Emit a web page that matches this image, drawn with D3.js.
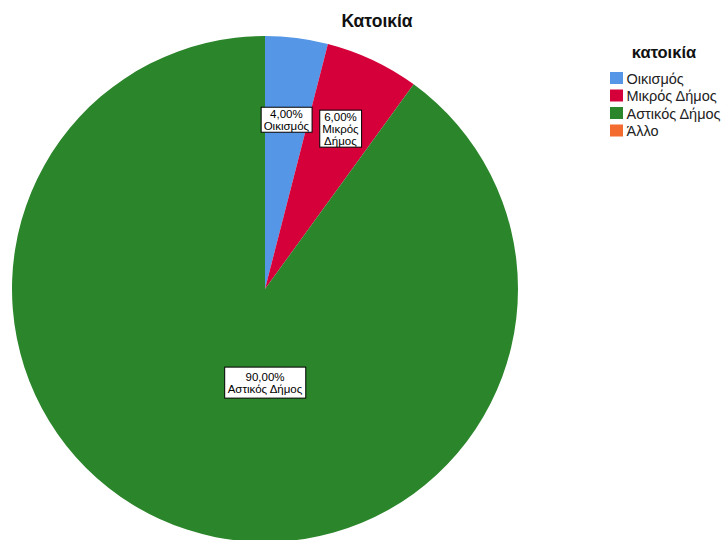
<!DOCTYPE html>
<html>
<head>
<meta charset="utf-8">
<script src="https://cdn.jsdelivr.net/npm/d3@7"></script>
<style>
  html, body { margin: 0; padding: 0; background: #fff; overflow: hidden; }
  svg { display: block; font-family: "Liberation Sans", Arial, sans-serif; }
</style>
</head>
<body>
<svg id="chart" width="721" height="540"></svg>
<script>
// Residence type shares (percent)
const categories = ["Οικισμός", "Μικρός Δήμος", "Αστικός Δήμος", "Άλλο"];
const values = [4, 6, 90, 0];
const colors = ["#5596e6", "#d5003a", "#2b852b", "#f46b2f"];
const chartTitle = "Κατοικία";
const legendTitle = "κατοικία";

const svg = d3.select("#chart");
const cx = 265, cy = 289, R = 253;

const fmt = v => v.toFixed(2).replace(".", ",") + "%";

const pie = d3.pie().sort(null).value(d => d.value);
const arcs = pie(categories.map((c, i) => ({ name: c, value: values[i], color: colors[i] })));
const arc = d3.arc().innerRadius(0).outerRadius(R);

const g = svg.append("g").attr("transform", `translate(${cx},${cy})`);
g.selectAll("path.slice")
  .data(arcs.filter(d => d.data.value > 0))
  .join("path")
  .attr("class", "slice")
  .attr("d", arc)
  .attr("fill", d => d.data.color);

// Value labels: for small slices the box's inner edge sits on a ring at 0.62R
// along the slice's mid-angle; the dominant slice's label sits below the centre.
const lh = 12;
arcs.filter(d => d.data.value > 0).forEach(d => {
  const lines = [fmt(d.data.value)];
  if (d.data.value < 5 || d.data.value >= 50) lines.push(d.data.name);
  else d.data.name.split(" ").forEach(w => lines.push(w));

  const lg = g.append("g");
  const txt = lg.append("text")
    .attr("text-anchor", "middle")
    .attr("font-size", 11.5)
    .attr("fill", "#000");
  lines.forEach((l, i) => {
    txt.append("tspan")
      .attr("x", 0)
      .attr("y", (i - (lines.length - 1) / 2) * lh + 4)
      .text(l);
  });
  const bb = txt.node().getBBox();
  const big = d.data.value >= 50;
  const padX = big ? 3 : 2.5, padY = big ? 3.5 : 0.5;
  const rect = lg.insert("rect", "text")
    .attr("x", bb.x - padX)
    .attr("y", bb.y - padY)
    .attr("width", bb.width + 2 * padX)
    .attr("height", bb.height + 2 * padY)
    .attr("fill", "#fff")
    .attr("stroke", "#000")
    .attr("stroke-width", 1);

  let x, y;
  if (big) {
    x = 0; y = R * 0.37;
  } else {
    const h = bb.height + 2 * padY;
    const a = (d.startAngle + d.endAngle) / 2;
    const dist = R * 0.62 + 0.55 * h;
    x = Math.sin(a) * dist;
    y = -Math.cos(a) * dist;
  }
  lg.attr("transform", `translate(${x},${y})`);
});

// Title
svg.append("text")
  .attr("x", 377).attr("y", 27)
  .attr("text-anchor", "middle")
  .attr("font-size", 17.5)
  .attr("font-weight", "bold")
  .attr("fill", "#111")
  .text(chartTitle);

// Legend
const lgd = svg.append("g").attr("transform", "translate(610,0)");
lgd.append("text")
  .attr("x", 54).attr("y", 58)
  .attr("text-anchor", "middle")
  .attr("font-size", 16.5)
  .attr("font-weight", "bold")
  .attr("fill", "#111")
  .text(legendTitle);
const items = lgd.selectAll("g.item")
  .data(categories)
  .join("g")
  .attr("class", "item")
  .attr("transform", (d, i) => `translate(0,${72 + i * 17.5})`);
items.append("rect")
  .attr("width", 13).attr("height", 12)
  .attr("fill", (d, i) => colors[i]);
items.append("text")
  .attr("x", 16.5).attr("y", 11.5)
  .attr("font-size", 14.5)
  .attr("fill", "#222")
  .text(d => d);
</script>
</body>
</html>
